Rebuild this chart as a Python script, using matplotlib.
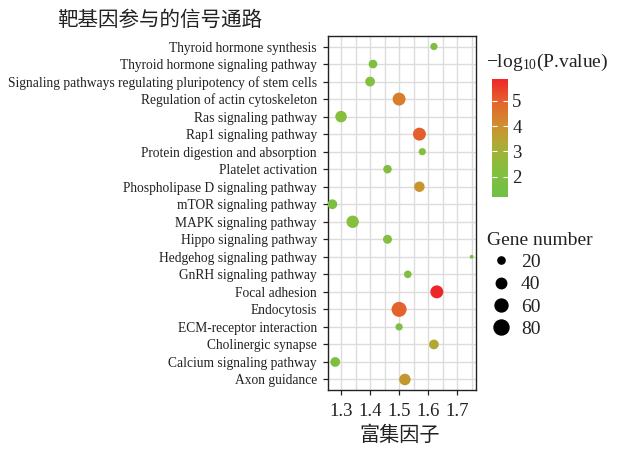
import matplotlib
matplotlib.use("Agg")
import matplotlib.pyplot as plt
import numpy as np
from matplotlib.colors import LinearSegmentedColormap, Normalize
from matplotlib.lines import Line2D
from matplotlib.ticker import MultipleLocator

plt.rcParams['font.family'] = ['Liberation Serif', 'Noto Sans CJK SC', 'DejaVu Sans']
plt.rcParams['mathtext.fontset'] = 'custom'
plt.rcParams['mathtext.rm'] = 'Liberation Serif'
plt.rcParams['mathtext.it'] = 'Liberation Serif:italic'

# ---- data (top to bottom) ----
pathways = [
    "Thyroid hormone synthesis",
    "Thyroid hormone signaling pathway",
    "Signaling pathways regulating pluripotency of stem cells",
    "Regulation of actin cytoskeleton",
    "Ras signaling pathway",
    "Rap1 signaling pathway",
    "Protein digestion and absorption",
    "Platelet activation",
    "Phospholipase D signaling pathway",
    "mTOR signaling pathway",
    "MAPK signaling pathway",
    "Hippo signaling pathway",
    "Hedgehog signaling pathway",
    "GnRH signaling pathway",
    "Focal adhesion",
    "Endocytosis",
    "ECM-receptor interaction",
    "Cholinergic synapse",
    "Calcium signaling pathway",
    "Axon guidance",
]
rich_factor = [1.62, 1.41, 1.40, 1.50, 1.30, 1.57, 1.58, 1.46, 1.57, 1.27,
               1.34, 1.46, 1.75, 1.53, 1.63, 1.50, 1.50, 1.62, 1.28, 1.52]
gene_number = [20, 28, 35, 60, 48, 60, 20, 27, 40, 35,
               55, 30, 7, 22, 60, 80, 20, 35, 35, 48]
neg_log_p = [2.0, 2.0, 2.2, 4.4, 2.3, 5.0, 2.2, 2.1, 3.9, 1.9,
             2.3, 2.2, 1.19, 2.0, 5.87, 4.95, 1.9, 3.4, 2.0, 3.8]
size_breaks = [20, 40, 60, 80]
cbar_ticks = [2, 3, 4, 5]
x_ticks = [1.3, 1.4, 1.5, 1.6, 1.7]

title = "靶基因参与的信号通路"
xlabel = "富集因子"

# ---- style ----
W, H = 617, 449
fig = plt.figure(figsize=(W / 100, H / 100), dpi=100)
fig.patch.set_facecolor('white')
TXT = '#222222'

cmap = LinearSegmentedColormap.from_list("gr", [
    (0.00, (110/255, 192/255, 70/255)),
    (0.25, (135/255, 190/255, 62/255)),
    (0.45, (175/255, 170/255, 50/255)),
    (0.60, (205/255, 145/255, 45/255)),
    (0.80, (228/255, 100/255, 45/255)),
    (1.00, (237/255, 38/255, 42/255)),
])
vmin, vmax = min(neg_log_p), max(neg_log_p)
norm = Normalize(vmin=vmin, vmax=vmax)

def size_px_area(n):
    return 9 + (np.asarray(n, float) - 5) * 2.88

def s_pt2(n):
    return size_px_area(n) * 0.72 ** 2

ax = fig.add_axes([328 / W, 1 - 390 / H, 148 / W, 354 / H])
npw = len(pathways)
yvals = np.arange(npw, 0, -1)
ax.scatter(rich_factor, yvals, s=s_pt2(gene_number), c=neg_log_p, cmap=cmap,
           norm=norm, linewidths=0, zorder=3)

ax.set_xlim(1.255, 1.765)
ax.set_ylim(0.4, npw + 0.6)
ax.set_yticks(yvals)
ax.set_yticklabels(pathways, fontsize=9.75, color=TXT)
ax.set_xticks(x_ticks)
ax.set_xticklabels([f"{t:.1f}" for t in x_ticks], fontsize=13.5, color=TXT)
ax.xaxis.set_minor_locator(MultipleLocator(0.05))
ax.grid(True, which='both', axis='x', color='#dcdcdc', linewidth=1.0, zorder=0)
ax.grid(True, which='major', axis='y', color='#dcdcdc', linewidth=1.0, zorder=0)
ax.tick_params(axis='y', which='major', length=3.5, width=0.9, color=TXT, pad=4.5)
ax.tick_params(axis='x', which='major', length=3.5, width=0.9, color=TXT, pad=5.5)
ax.tick_params(axis='x', which='minor', length=0)
ax.set_axisbelow(True)
for sp in ax.spines.values():
    sp.set_linewidth(1.0)
    sp.set_color(TXT)

fig.text(400 / W, 1 - 435 / H, xlabel, ha='center', va='center', fontsize=14.5,
         family=['Noto Sans CJK SC'], color=TXT)
fig.text(160 / W, 1 - 20 / H, title, ha='center', va='center', fontsize=14.8,
         family=['Noto Sans CJK SC'], color=TXT)

# ---- colorbar ----
cax = fig.add_axes([492 / W, 1 - 197 / H, 16 / W, 118 / H])
sm = plt.cm.ScalarMappable(norm=norm, cmap=cmap)
cb = fig.colorbar(sm, cax=cax)
cb.outline.set_visible(False)
cb.set_ticks(cbar_ticks)
cb.ax.tick_params(direction='in', length=3.5, width=0.8, color='white',
                  labelsize=13.5, labelcolor=TXT, left=True, right=True, pad=3)
fig.text(486 / W, 1 - 62 / H, r"$\mathrm{-log_{10}}$(P.value)", ha='left', va='center',
         fontsize=14, color=TXT)

# ---- size legend ----
handles = [Line2D([], [], marker='o', linestyle='None', color='black',
                  markersize=np.sqrt(size_px_area(b)) * 0.72) for b in size_breaks]
leg = fig.legend(handles, [str(b) for b in size_breaks], title="Gene number",
                 loc='upper left', bbox_to_anchor=(479 / W, 1 - 224 / H),
                 frameon=False, fontsize=14, title_fontsize=14,
                 handletextpad=0.25, labelspacing=0.24, borderaxespad=0,
                 handlelength=1.5, markerscale=1.0)
leg._legend_box.align = "left"
for t in leg.get_texts():
    t.set_color(TXT)
leg.get_title().set_color(TXT)

fig.savefig("out.png", dpi=100, facecolor='white')
